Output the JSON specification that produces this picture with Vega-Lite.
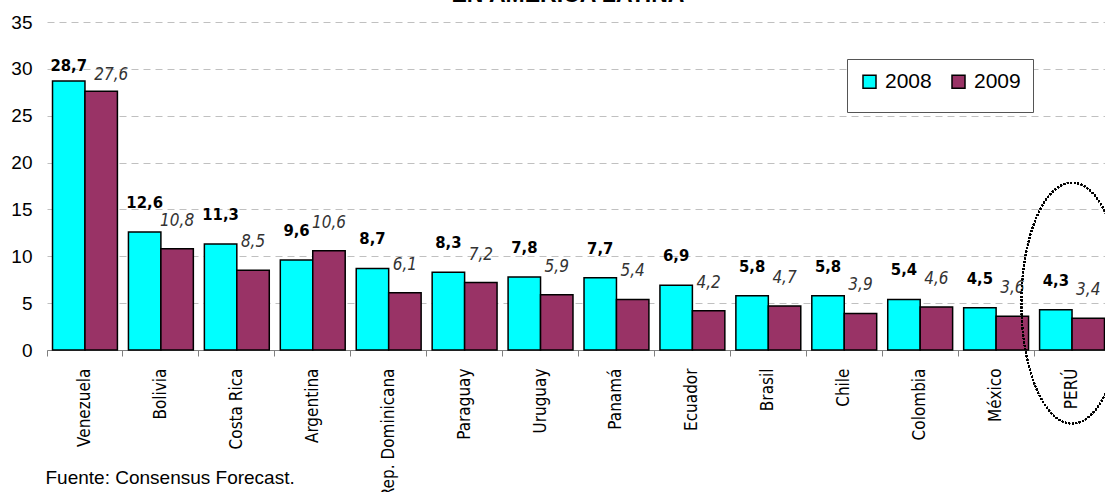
{
  "$schema": "https://vega.github.io/schema/vega-lite/v6.json",
  "autosize": {"type": "none"},
  "padding": {"left": 47, "top": 22, "right": 0, "bottom": 142},
  "width": 1058,
  "height": 328,
  "title": {"text": "EN AMÉRICA LATINA", "font": "Liberation Sans", "fontSize": 23, "fontWeight": "bold", "baseline": "alphabetic", "offset": 0, "dy": 12, "frame": "group", "anchor": "middle", "dx": -8, "color": "#000000"},
  "config": {
    "locale": {"number": {"decimal": ",", "thousands": ".", "grouping": [3], "currency": ["", " €"]}},
    "view": {"stroke": null}
  },
  "data": {"values": [
    {"country": "Venezuela", "year": "2008", "value": 28.7},
    {"country": "Venezuela", "year": "2009", "value": 27.6},
    {"country": "Bolivia", "year": "2008", "value": 12.6},
    {"country": "Bolivia", "year": "2009", "value": 10.8},
    {"country": "Costa Rica", "year": "2008", "value": 11.3},
    {"country": "Costa Rica", "year": "2009", "value": 8.5},
    {"country": "Argentina", "year": "2008", "value": 9.6},
    {"country": "Argentina", "year": "2009", "value": 10.6},
    {"country": "Rep. Dominicana", "year": "2008", "value": 8.7},
    {"country": "Rep. Dominicana", "year": "2009", "value": 6.1},
    {"country": "Paraguay", "year": "2008", "value": 8.3},
    {"country": "Paraguay", "year": "2009", "value": 7.2},
    {"country": "Uruguay", "year": "2008", "value": 7.8},
    {"country": "Uruguay", "year": "2009", "value": 5.9},
    {"country": "Panamá", "year": "2008", "value": 7.7},
    {"country": "Panamá", "year": "2009", "value": 5.4},
    {"country": "Ecuador", "year": "2008", "value": 6.9},
    {"country": "Ecuador", "year": "2009", "value": 4.2},
    {"country": "Brasil", "year": "2008", "value": 5.8},
    {"country": "Brasil", "year": "2009", "value": 4.7},
    {"country": "Chile", "year": "2008", "value": 5.8},
    {"country": "Chile", "year": "2009", "value": 3.9},
    {"country": "Colombia", "year": "2008", "value": 5.4},
    {"country": "Colombia", "year": "2009", "value": 4.6},
    {"country": "México", "year": "2008", "value": 4.5},
    {"country": "México", "year": "2009", "value": 3.6},
    {"country": "PERÚ", "year": "2008", "value": 4.3},
    {"country": "PERÚ", "year": "2009", "value": 3.4}
  ]},
  "encoding": {
    "x": {
      "field": "country", "type": "nominal",
      "sort": ["Venezuela", "Bolivia", "Costa Rica", "Argentina", "Rep. Dominicana", "Paraguay", "Uruguay", "Panamá", "Ecuador", "Brasil", "Chile", "Colombia", "México", "PERÚ"],
      "scale": {"paddingInner": 0, "paddingOuter": 0, "range": [0, 1063]},
      "axis": {
        "title": "Fuente: Consensus Forecast.",
        "titleAnchor": "start", "titleAlign": "left", "titleBaseline": "alphabetic",
        "titleX": -2, "titleY": 133,
        "titleFont": "Liberation Sans", "titleFontSize": 19, "titleFontWeight": "normal", "titleColor": "#000000",
        "labelAngle": -90, "labelAlign": "right", "labelBaseline": "middle",
        "labelFont": "DejaVu Sans Condensed", "labelFontSize": 17, "labelColor": "#000000",
        "labelPadding": 12, "labelBound": false, "labelOverlap": false,
        "tickSize": 6, "tickColor": "#808080", "domainColor": "#808080",
        "bandPosition": 0, "grid": false
      }
    }
  },
  "layer": [
    {
      "mark": {"type": "bar", "stroke": "#000000", "strokeWidth": 1.5},
      "encoding": {
        "xOffset": {"field": "year", "type": "nominal", "scale": {"paddingInner": 0, "paddingOuter": 0.17}},
        "y": {
          "field": "value", "type": "quantitative",
          "scale": {"domain": [0, 35], "nice": false},
          "axis": {
            "title": null, "values": [0, 5, 10, 15, 20, 25, 30, 35],
            "grid": true, "gridDash": [7, 5], "gridColor": "#c0c0c0",
            "domain": false, "ticks": false,
            "labelFont": "Liberation Sans", "labelFontSize": 19, "labelColor": "#000000", "labelPadding": 15
          }
        },
        "color": {
          "field": "year", "type": "nominal",
          "scale": {"domain": ["2008", "2009"], "range": ["#00FFFF", "#993366"]},
          "legend": {
            "orient": "none", "legendX": 800, "legendY": 37, "direction": "horizontal",
            "title": " ", "titleOrient": "bottom", "titleFontSize": 8, "titlePadding": 0,
            "symbolType": "square", "symbolSize": 169, "symbolStrokeColor": "#000000", "symbolStrokeWidth": 1.5,
            "labelFont": "Liberation Sans", "labelFontSize": 21, "labelColor": "#000000",
            "strokeColor": "#555555", "fillColor": "#ffffff", "padding": 12, "columnPadding": 16, "labelOffset": 5
          }
        }
      }
    },
    {
      "transform": [{"filter": "datum.year === '2008' && datum.country !== 'Venezuela'"}],
      "mark": {"type": "text", "font": "DejaVu Sans Condensed", "fontSize": 16.5, "fontWeight": "bold", "baseline": "alphabetic", "align": "center", "dy": -24, "color": "#000000"},
      "encoding": {
        "xOffset": {"field": "year", "type": "nominal"},
        "y": {"field": "value", "type": "quantitative"},
        "text": {"field": "value", "type": "quantitative", "format": ".1f"}
      }
    },
    {
      "transform": [{"filter": "datum.year === '2008' && datum.country === 'Venezuela'"}],
      "mark": {"type": "text", "font": "DejaVu Sans Condensed", "fontSize": 16.5, "fontWeight": "bold", "baseline": "alphabetic", "align": "center", "dy": -10, "color": "#000000"},
      "encoding": {
        "xOffset": {"field": "year", "type": "nominal"},
        "y": {"field": "value", "type": "quantitative"},
        "text": {"field": "value", "type": "quantitative", "format": ".1f"}
      }
    },
    {
      "transform": [{"filter": "datum.year === '2009' && datum.country !== 'Venezuela'"}],
      "mark": {"type": "text", "font": "DejaVu Sans Condensed", "fontSize": 17, "fontStyle": "italic", "baseline": "alphabetic", "align": "center", "dy": -23, "color": "#333333"},
      "encoding": {
        "xOffset": {"field": "year", "type": "nominal"},
        "y": {"field": "value", "type": "quantitative"},
        "text": {"field": "value", "type": "quantitative", "format": ".1f"}
      }
    },
    {
      "transform": [{"filter": "datum.year === '2009' && datum.country === 'Venezuela'"}],
      "mark": {"type": "text", "font": "DejaVu Sans Condensed", "fontSize": 17, "fontStyle": "italic", "baseline": "alphabetic", "align": "center", "dx": 10, "dy": -11, "color": "#333333"},
      "encoding": {
        "xOffset": {"field": "year", "type": "nominal"},
        "y": {"field": "value", "type": "quantitative"},
        "text": {"field": "value", "type": "quantitative", "format": ".1f"}
      }
    },
    {
      "mark": {"type": "point", "shape": "M-0.42,0A0.42,1 0 1,0 0.42,0A0.42,1 0 1,0 -0.42,0Z", "size": 58081, "filled": false, "stroke": "#000000", "strokeWidth": 1.5, "strokeDash": [1.5, 2], "opacity": 1},
      "encoding": {
        "x": {"datum": "PERÚ", "type": "nominal"},
        "y": {"datum": 5, "type": "quantitative"}
      }
    }
  ]
}
